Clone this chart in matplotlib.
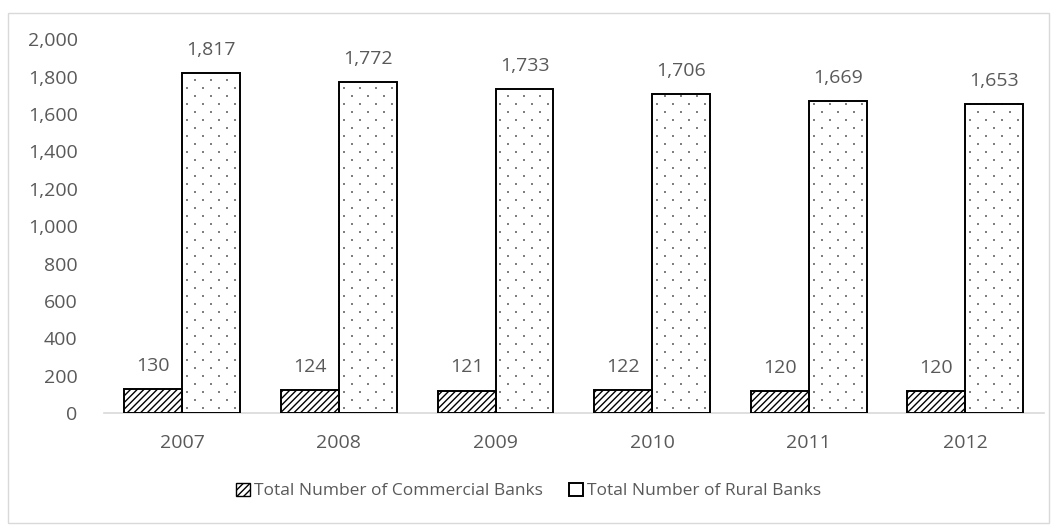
import matplotlib.pyplot as plt
import numpy as np
from matplotlib.patches import Patch, Rectangle

years = ['2007', '2008', '2009', '2010', '2011', '2012']
commercial = [130, 124, 121, 122, 120, 120]
rural = [1817, 1772, 1733, 1706, 1669, 1653]

plt.rcParams['font.family'] = ['Open Sans', 'DejaVu Sans']
plt.rcParams['hatch.linewidth'] = 1.0
txt = '#595959'

ax_box = [0.0984, 0.219, 0.889, 0.707]
fig = plt.figure(figsize=(10.57, 5.29), dpi=100)
ax = fig.add_axes(ax_box)

x = np.arange(len(years))
w = 0.37
ymax = 2000

ax.bar(x - w / 2, commercial, w, color='white', edgecolor='black', hatch='/////', linewidth=0)
ax.bar(x + w / 2, rural, w, color='white', linewidth=0)

# sparse staggered dot pattern inside the rural bars (spacing given in pixels)
ax_w_px = ax_box[2] * 1057
ax_h_px = ax_box[3] * 529
dx = 16 / ax_w_px * len(years)
dy = 8 / ax_h_px * ymax
for xi, v in zip(x, rural):
    left = xi
    row = 0
    yy = dy * 0.6
    while yy < v:
        off = dx * (0.3 if row % 2 == 0 else 0.8)
        xs = np.arange(left + off, left + w, dx)
        ax.scatter(xs, np.full(len(xs), yy), s=1.6, marker='s', color='#808080', linewidths=0, zorder=2)
        yy += dy
        row += 1

ax.bar(x - w / 2, commercial, w, fill=False, edgecolor='black', linewidth=1.4, zorder=3)
ax.bar(x + w / 2, rural, w, fill=False, edgecolor='black', linewidth=1.4, zorder=3)

for xi, v in zip(x, commercial):
    ax.annotate(f'{v:,}', (xi - w / 2, v), xytext=(0, 13), textcoords='offset points',
                ha='center', va='baseline', fontsize=14, color=txt)
for xi, v in zip(x, rural):
    ax.annotate(f'{v:,}', (xi + w / 2, v), xytext=(0, 13), textcoords='offset points',
                ha='center', va='baseline', fontsize=14, color=txt)

ax.set_xlim(-0.5, len(years) - 0.5)
ax.set_ylim(0, ymax)
ax.set_yticks(range(0, ymax + 1, 200))
ax.set_yticklabels([f'{t:,}' for t in range(0, ymax + 1, 200)])
ax.set_xticks(x)
ax.set_xticklabels(years)
ax.tick_params(length=0, labelsize=14, labelcolor=txt)
ax.tick_params(axis='x', pad=15)
ax.tick_params(axis='y', pad=19)
for s in ['top', 'right', 'left']:
    ax.spines[s].set_visible(False)
ax.spines['bottom'].set_color('#d9d9d9')
ax.spines['bottom'].set_linewidth(1.2)

handles = [Patch(facecolor='white', edgecolor='black', hatch='/////', label='Total Number of Commercial Banks'),
           Patch(facecolor='white', edgecolor='black', linewidth=1.4, label='Total Number of Rural Banks')]
fig.legend(handles=handles, loc='center', bbox_to_anchor=(0.5, 0.072), ncol=2, frameon=False,
           fontsize=12.5, labelcolor=txt, handlelength=0.8, handleheight=0.8, handletextpad=0.25,
           columnspacing=1.5)

# light frame around the whole chart
fig.patches.append(Rectangle((0.008, 0.012), 0.984, 0.963, transform=fig.transFigure,
                             fill=False, edgecolor='#d9d9d9', linewidth=1))

fig.savefig('out.png', dpi=100)
